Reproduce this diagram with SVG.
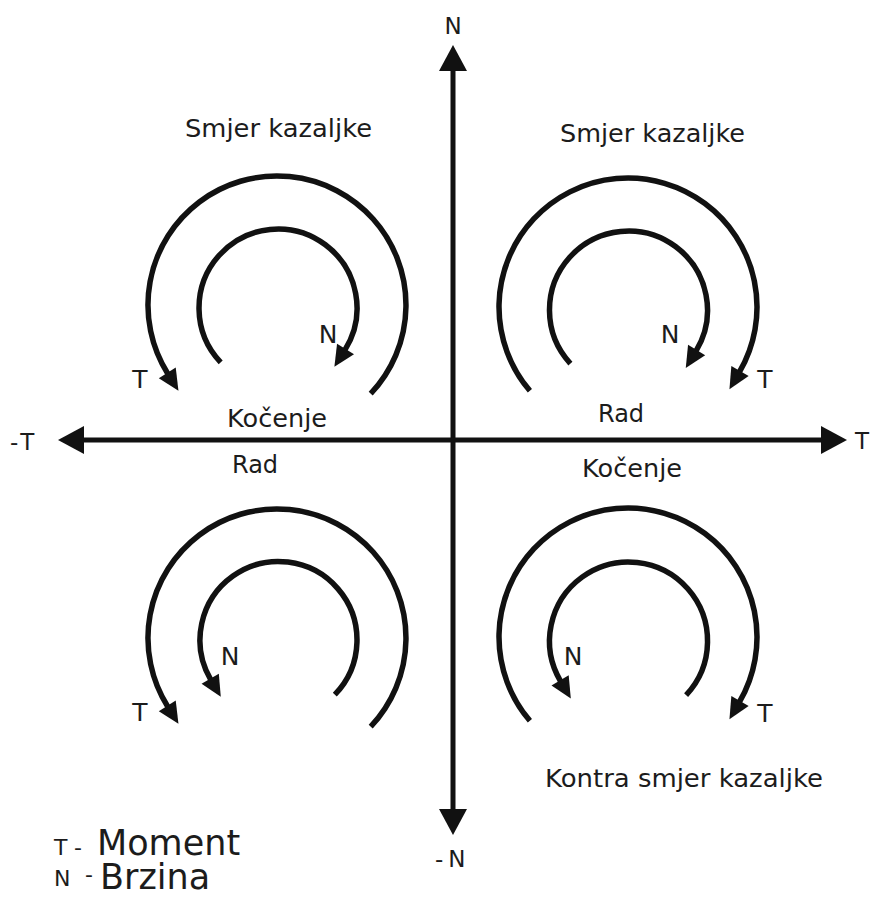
<svg xmlns="http://www.w3.org/2000/svg" width="873" height="897" viewBox="0 0 873 897">
  <style>
    text { font-family: "DejaVu Sans", "Verdana", sans-serif; fill: #1c1c1c; }
    .lbl { font-size: 24px; }
    .ax { font-size: 23px; }
    .ar { font-size: 25px; text-anchor: middle; }
    .sm { font-size: 22px; }
    .big { font-size: 35px; }
    .arc { fill: none; stroke: #111; stroke-width: 5.5; stroke-linecap: butt; }
    .axis { fill: none; stroke: #111; stroke-width: 5; }
  </style>
  <defs>
    <marker id="ah" markerUnits="userSpaceOnUse" markerWidth="24" markerHeight="22" refX="1" refY="10" orient="auto" overflow="visible">
      <path d="M0,0 L21,10 L0,20 z" fill="#111"/>
    </marker>
    <marker id="axh" markerUnits="userSpaceOnUse" markerWidth="28" markerHeight="30" refX="1" refY="14" orient="auto-start-reverse" overflow="visible">
      <path d="M0,0 L26,14 L0,28 z" fill="#111"/>
    </marker>
  </defs>
  <rect width="873" height="897" fill="#fff"/>

  <g id="connectors">
    <g id="axes">
      <line class="axis" x1="453" y1="70" x2="453" y2="810" marker-start="url(#axh)" marker-end="url(#axh)"/>
      <line class="axis" x1="83" y1="440" x2="822" y2="440" marker-start="url(#axh)" marker-end="url(#axh)"/>
    </g>
    <g id="q-top-left">
      <path class="arc" d="M370.7,393.6 A129,129 0 1 0 167.8,373.7" marker-end="url(#ah)"/>
      <path class="arc" d="M220.7,362.4 A79,79 0 1 1 345.0,349.9" marker-end="url(#ah)"/>
    </g>
    <g id="q-top-right">
      <path class="arc" d="M529.9,390.8 A129,129 0 1 1 739.5,371.9" marker-end="url(#ah)"/>
      <path class="arc" d="M570.4,363.6 A79,79 0 1 1 696.1,350.9" marker-end="url(#ah)"/>
    </g>
    <g id="q-bottom-left">
      <path class="arc" d="M370.7,726.6 A129,129 0 1 0 167.8,706.7" marker-end="url(#ah)"/>
      <path class="arc" d="M334.8,694.7 A78.5,78.5 0 1 0 210.7,679.6" marker-end="url(#ah)"/>
    </g>
    <g id="q-bottom-right">
      <path class="arc" d="M529.9,720.8 A129,129 0 1 1 739.5,701.9" marker-end="url(#ah)"/>
      <path class="arc" d="M686.1,695.1 A79,79 0 1 0 560.6,681.3" marker-end="url(#ah)"/>
    </g>
  </g>

  <g id="axis-labels">
    <text class="ax" x="453" y="34" text-anchor="middle">N</text>
    <text class="ax" x="435" y="867">-<tspan dx="5">N</tspan></text>
    <text class="ax" x="855" y="449">T</text>
    <text class="ax" x="10" y="450">-<tspan dx="4">T</tspan></text>
  </g>

  <g id="node-tl">
    <text class="lbl" x="185" y="137" textLength="187" lengthAdjust="spacingAndGlyphs">Smjer kazaljke</text>
    <text class="ar" x="140" y="388">T</text>
    <text class="ar" x="328" y="343">N</text>
  </g>
  <g id="node-tr">
    <text class="lbl" x="560" y="142" textLength="185" lengthAdjust="spacingAndGlyphs">Smjer kazaljke</text>
    <text class="ar" x="765" y="388">T</text>
    <text class="ar" x="670" y="343">N</text>
  </g>
  <g id="node-bl">
    <text class="ar" x="140" y="721">T</text>
    <text class="ar" x="230" y="665">N</text>
  </g>
  <g id="node-br">
    <text class="ar" x="765" y="722">T</text>
    <text class="ar" x="573" y="665">N</text>
    <text class="lbl" x="545" y="787" textLength="278" lengthAdjust="spacingAndGlyphs">Kontra smjer kazaljke</text>
  </g>
  <g id="quadrant-modes">
    <text class="lbl" x="227" y="427" textLength="100" lengthAdjust="spacingAndGlyphs">Kočenje</text>
    <text class="lbl" x="232" y="473">Rad</text>
    <text class="lbl" x="598" y="422">Rad</text>
    <text class="lbl" x="582" y="477" textLength="100" lengthAdjust="spacingAndGlyphs">Kočenje</text>
  </g>
  <g id="legend">
    <text class="sm" x="54" y="855">T<tspan x="74">-</tspan><tspan class="big" x="97">Moment</tspan></text>
    <text class="sm" x="54" y="886">N<tspan x="85" y="882">-</tspan><tspan class="big" x="100" y="889">Brzina</tspan></text>
  </g>
</svg>
